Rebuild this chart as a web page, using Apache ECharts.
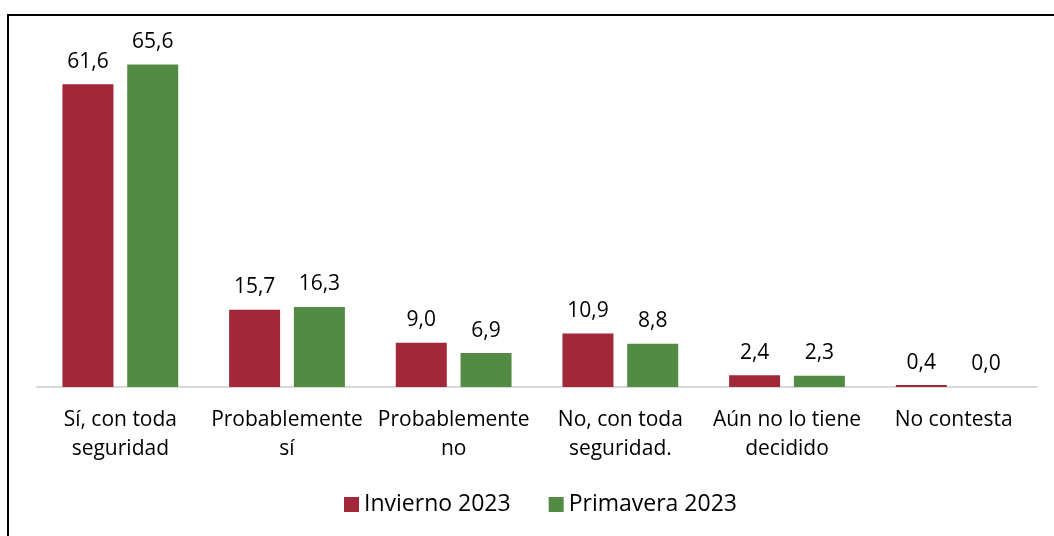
<!DOCTYPE html>
<html>
<head>
<meta charset="utf-8">
<script src="https://cdn.jsdelivr.net/npm/echarts@6/dist/echarts.min.js"></script>
<style>
  html, body { margin: 0; padding: 0; background: #fff; }
  #chart { width: 1054px; height: 536px; }
</style>
</head>
<body>
<div id="chart"></div>
<script>
// categorias del eje x
const categorias = [
    'Sí, con toda\nseguridad',
    'Probablemente\nsí',
    'Probablemente\nno',
    'No, con toda\nseguridad.',
    'Aún no lo tiene\ndecidido',
    'No contesta'
];
const invierno2023 = [61.6, 15.7, 9.0, 10.9, 2.4, 0.4];
const primavera2023 = [65.6, 16.3, 6.9, 8.8, 2.3, 0.0];
const serieNombres = ['Invierno 2023', 'Primavera 2023'];

const fuente = '"Open Sans", "Noto Sans", sans-serif';

const myChart = echarts.init(document.getElementById('chart'));

function etiqueta(params) {
    return params.value.toFixed(1).replace('.', ',');
}

var option = {
    backgroundColor: '#fff',
    animation: false,
    graphic: [
        {
            type: 'rect',
            shape: {x: 8, y: 15, width: 1100, height: 600},
            style: {fill: 'none', stroke: '#000', lineWidth: 2},
            silent: true
        }
    ],
    legend: {
        data: serieNombres,
        bottom: 15,
        left: 339,
        itemWidth: 15,
        itemHeight: 15,
        itemGap: 38,
        icon: 'rect',
        textStyle: {fontFamily: fuente, fontSize: 23, color: '#000'}
    },
    grid: {
        left: 37,
        right: 17,
        top: 43,
        bottom: 149
    },
    xAxis: {
        type: 'category',
        data: categorias,
        axisLine: {lineStyle: {color: '#d9d9d9', width: 2}},
        axisTick: {show: false},
        axisLabel: {
            interval: 0,
            fontFamily: fuente,
            fontSize: 21,
            color: '#000',
            lineHeight: 29,
            margin: 19
        }
    },
    yAxis: {
        type: 'value',
        min: 0,
        max: 70,
        show: false,
        splitLine: {show: false}
    },
    series: [
        {
            name: serieNombres[0],
            type: 'bar',
            data: invierno2023,
            barWidth: 51,
            barGap: '27%',
            itemStyle: {color: '#A12838'},
            label: {
                show: true,
                position: 'top',
                distance: 12,
                formatter: etiqueta,
                fontFamily: fuente,
                fontSize: 21,
                color: '#000'
            }
        },
        {
            name: serieNombres[1],
            type: 'bar',
            data: primavera2023,
            barWidth: 51,
            itemStyle: {color: '#548B44'},
            label: {
                show: true,
                position: 'top',
                distance: 12,
                formatter: etiqueta,
                fontFamily: fuente,
                fontSize: 21,
                color: '#000'
            }
        }
    ]
};

myChart.setOption(option);
window.addEventListener('resize', function () {
    myChart.resize();
});
</script>
</body>
</html>
